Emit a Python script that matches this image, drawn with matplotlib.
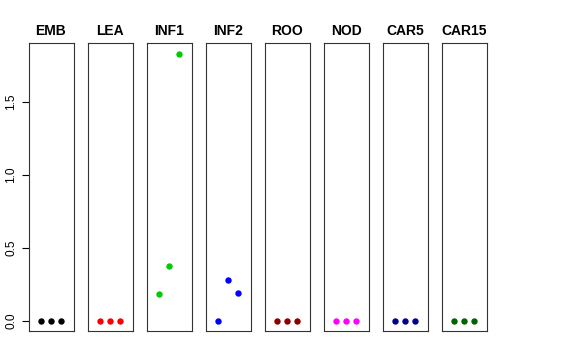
import matplotlib
matplotlib.use("Agg")
import matplotlib.pyplot as plt

plt.rcParams['font.family'] = ['Liberation Sans', 'DejaVu Sans']

tissues = ["EMB", "LEA", "INF1", "INF2", "ROO", "NOD", "CAR5", "CAR15"]
colors = ["#000000", "#FF0000", "#00CD00", "#0000FF",
          "#8B0000", "#FF00FF", "#00008B", "#006400"]
reps = [1, 2, 3]
emb = [0.0, 0.0, 0.0]
lea = [0.0, 0.0, 0.0]
inf1 = [0.183, 0.375, 1.829]
inf2 = [0.0, 0.279, 0.192]
roo = [0.0, 0.0, 0.0]
nod = [0.0, 0.0, 0.0]
car5 = [0.0, 0.0, 0.0]
car15 = [0.0, 0.0, 0.0]
values = [emb, lea, inf1, inf2, roo, nod, car5, car15]

W, H = 576, 360
fig = plt.figure(figsize=(W / 100, H / 100), dpi=100)

for i in range(len(tissues)):
    left = (28.5 + 59 * i) / W
    ax = fig.add_axes([left, (H - 331) / H, 45 / W, (331 - 43.3) / H])
    ax.plot(reps, values[i], 'o', color=colors[i], markersize=4.6, markeredgewidth=0)
    ax.set_xlim(2 - 2.18, 2 + 2.18)
    ax.set_ylim(-0.07, 1.90)
    ax.set_title(tissues[i], fontsize=10, fontweight='bold', pad=6)
    for s in ax.spines.values():
        s.set_linewidth(0.8)
        s.set_color('#333333')
    ax.set_xticks([])
    if i == 0:
        ax.set_yticks([0.0, 0.5, 1.0, 1.5])
        ax.set_yticklabels(["0.0", "0.5", "1.0", "1.5"], rotation=90, va='center', fontsize=8.6)
        ax.tick_params(axis='y', length=5, width=0.8, pad=3)
    else:
        ax.set_yticks([])

plt.savefig("out.png", dpi=100)
